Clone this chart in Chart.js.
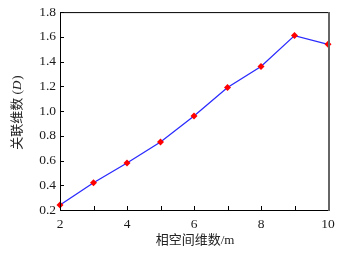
<!DOCTYPE html>
<html lang="zh">
<head>
<meta charset="UTF-8">
<script src="https://cdn.jsdelivr.net/npm/chart.js"></script>
<style>
  html, body { margin: 0; padding: 0; background: #fff; }
  #box { width: 348px; height: 256px; }
</style>
</head>
<body>
<div id="box"><canvas id="grafico"></canvas></div>
<script>
// dados
var dimensoes = [2, 3, 4, 5, 6, 7, 8, 9, 10];
var correlacao = [0.24, 0.42, 0.58, 0.75, 0.96, 1.19, 1.36, 1.61, 1.54];
var ticksX = [2, 4, 6, 8, 10];
var ticksY = [0.2, 0.4, 0.6, 0.8, 1.0, 1.2, 1.4, 1.6, 1.8];

var fonte = '"Liberation Serif", "Noto Sans CJK SC", serif';

// moldura, ticks para dentro e titulos dos eixos
var moldura = {
    id: 'moldura',
    afterDraw: function (chart) {
        var ctx = chart.ctx;
        var a = chart.chartArea;
        var sx = chart.scales.x, sy = chart.scales.y;
        ctx.save();
        ctx.strokeStyle = '#000';
        ctx.lineWidth = 1;
        ctx.beginPath();
        for (var m = 2; m <= 10; m++) {
            var px = Math.round(sx.getPixelForValue(m)) + 0.5;
            ctx.moveTo(px, a.bottom);
            ctx.lineTo(px, a.bottom - 4);
        }
        ticksY.forEach(function (v) {
            var py = Math.round(sy.getPixelForValue(v)) + 0.5;
            ctx.moveTo(a.left, py);
            ctx.lineTo(a.left + 4, py);
        });
        ctx.stroke();
        ctx.beginPath();
        ctx.moveTo(a.left + 0.5, a.top + 0.5);
        ctx.lineTo(a.right, a.top + 0.5);
        ctx.moveTo(a.left + 0.5, a.top);
        ctx.lineTo(a.left + 0.5, a.bottom + 0.5);
        ctx.lineTo(a.right, a.bottom + 0.5);
        ctx.stroke();
        ctx.strokeStyle = '#666';
        ctx.lineWidth = 2;
        ctx.beginPath();
        ctx.moveTo(a.right + 1, a.top);
        ctx.lineTo(a.right + 1, a.bottom + 1);
        ctx.stroke();

        // titulo eixo x
        ctx.fillStyle = '#222';
        ctx.font = '13px ' + fonte;
        ctx.textAlign = 'center';
        ctx.textBaseline = 'middle';
        ctx.fillText('相空间维数/m', (a.left + a.right) / 2 + 1, 241);

        // titulo eixo y, com D em italico
        ctx.translate(18, (a.top + a.bottom) / 2 + 2);
        ctx.rotate(-Math.PI / 2);
        var t1 = '关联维数 (', t2 = 'D', t3 = ')';
        ctx.font = '13px ' + fonte;
        var w1 = ctx.measureText(t1).width, w3 = ctx.measureText(t3).width;
        ctx.font = 'italic 13px ' + fonte;
        var w2 = ctx.measureText(t2).width;
        var x0 = -(w1 + w2 + w3) / 2;
        ctx.textAlign = 'left';
        ctx.font = '13px ' + fonte;
        ctx.fillText(t1, x0, 0);
        ctx.font = 'italic 13px ' + fonte;
        ctx.fillText(t2, x0 + w1, 0);
        ctx.font = '13px ' + fonte;
        ctx.fillText(t3, x0 + w1 + w2 + 1, 0);
        ctx.restore();
    }
};

var pontos = dimensoes.map(function (m, i) { return { x: m, y: correlacao[i] }; });

new Chart(document.getElementById('grafico'), {
    type: 'line',
    data: {
        datasets: [{
            data: pontos,
            borderColor: '#2a2aff',
            borderWidth: 1.3,
            pointStyle: 'rectRot',
            pointRadius: 3.5,
            pointBackgroundColor: '#ff0000',
            pointBorderColor: '#ff0000',
            pointBorderWidth: 0,
            tension: 0,
            clip: false
        }]
    },
    options: {
        responsive: true,
        maintainAspectRatio: false,
        animation: false,
        devicePixelRatio: 1,
        layout: { padding: { top: 10, right: 20, left: 0, bottom: 0 } },
        plugins: { legend: { display: false }, tooltip: { enabled: false } },
        scales: {
            x: {
                type: 'linear',
                min: 2,
                max: 10,
                afterFit: function (s) { s.height = 46; },
                afterBuildTicks: function (s) { s.ticks = ticksX.map(function (v) { return { value: v }; }); },
                grid: { display: false, drawTicks: false },
                border: { display: false },
                ticks: { color: '#1a1a1a', padding: 6, font: { family: fonte, size: 13.5 } }
            },
            y: {
                min: 0.2,
                max: 1.8,
                afterFit: function (s) { s.width = 60; },
                afterBuildTicks: function (s) { s.ticks = ticksY.map(function (v) { return { value: v }; }); },
                grid: { display: false, drawTicks: false },
                border: { display: false },
                ticks: {
                    color: '#1a1a1a', padding: 4, font: { family: fonte, size: 13.5 },
                    callback: function (v) { return Number(v).toFixed(1); }
                }
            }
        }
    },
    plugins: [moldura]
});
</script>
</body>
</html>
